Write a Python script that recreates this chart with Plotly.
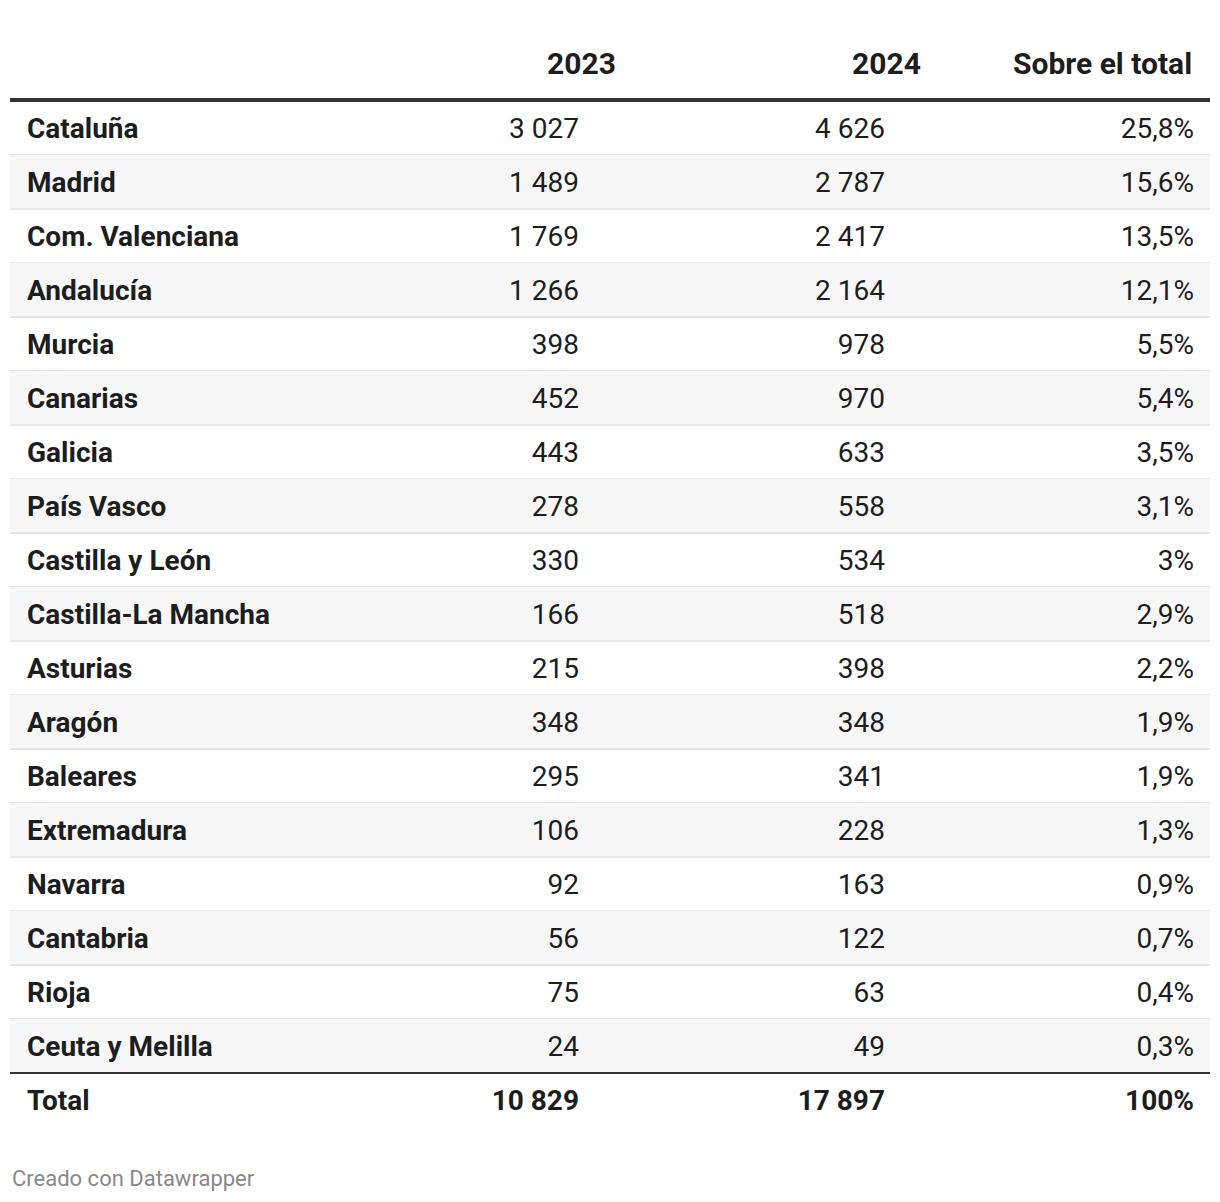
import plotly.graph_objects as go

# === Data ===
regions = ["Cataluña", "Madrid", "Com. Valenciana", "Andalucía", "Murcia", "Canarias",
           "Galicia", "País Vasco", "Castilla y León", "Castilla-La Mancha", "Asturias",
           "Aragón", "Baleares", "Extremadura", "Navarra", "Cantabria", "Rioja",
           "Ceuta y Melilla"]
v2023 = [3027, 1489, 1769, 1266, 398, 452, 443, 278, 330, 166, 215, 348, 295, 106, 92, 56, 75, 24]
v2024 = [4626, 2787, 2417, 2164, 978, 970, 633, 558, 534, 518, 398, 348, 341, 228, 163, 122, 63, 49]
share = [25.8, 15.6, 13.5, 12.1, 5.5, 5.4, 3.5, 3.1, 3.0, 2.9, 2.2, 1.9, 1.9, 1.3, 0.9, 0.7, 0.4, 0.3]
total_label = "Total"
total_2023 = 10829
total_2024 = 17897
total_share = 100.0
headers = ["2023", "2024", "Sobre el total"]

# === Styles ===
W, H = 1220, 1202
OFF = 8  # page body margin; axes are set so that data units == screen pixels
TEXT = "#1d1d1d"
ALT_FILL = "#f7f7f7"
SEP = "#e5e5e5"
DARK = "#333333"
FONT = "Roboto"
ROW0, ROW_H = 128, 54
TEXT_DY = 3  # text baseline nudge inside a row
X_LEFT, X_RIGHT = 10, 1210
X_LABEL, X_C1, X_C2, X_C3 = 27, 579, 885, 1194


def fmt_int(v):
    return f"{v:,}".replace(",", " ")


def fmt_pct(v):
    s = f"{v:.1f}".rstrip("0").rstrip(".")
    return s.replace(".", ",") + "%"


def row_y(i):
    return ROW0 + ROW_H * i


n = len(regions)
ys = [row_y(i) for i in range(n)]
ty = [y + TEXT_DY for y in ys]
y_total = row_y(n) + TEXT_DY

fig = go.Figure()

# alternating row backgrounds and light separators
for i in range(n):
    if i % 2 == 1:
        fig.add_shape(type="rect", x0=X_LEFT, x1=X_RIGHT, y0=ys[i] - ROW_H / 2, y1=ys[i] + ROW_H / 2,
                      fillcolor=ALT_FILL, line=dict(width=0), layer="below")
    if i < n - 1:
        fig.add_shape(type="line", x0=X_LEFT, x1=X_RIGHT, y0=ys[i] + ROW_H / 2, y1=ys[i] + ROW_H / 2,
                      line=dict(color=SEP, width=2), layer="below")

# header rule and total rule
fig.add_shape(type="line", x0=X_LEFT, x1=X_RIGHT, y0=100, y1=100, line=dict(color=DARK, width=4))
fig.add_shape(type="line", x0=X_LEFT, x1=X_RIGHT, y0=ys[-1] + ROW_H / 2, y1=ys[-1] + ROW_H / 2,
              line=dict(color=DARK, width=2))

body = dict(family=FONT, size=28, color=TEXT)
bold = dict(family=FONT, size=28, color=TEXT, weight="bold")

# body columns
fig.add_trace(go.Scatter(x=[X_LABEL] * n, y=ty, text=regions, mode="text",
                         textposition="middle right", textfont=bold))
fig.add_trace(go.Scatter(x=[X_C1] * n, y=ty, text=[fmt_int(v) for v in v2023], mode="text",
                         textposition="middle left", textfont=body))
fig.add_trace(go.Scatter(x=[X_C2] * n, y=ty, text=[fmt_int(v) for v in v2024], mode="text",
                         textposition="middle left", textfont=body))
fig.add_trace(go.Scatter(x=[X_C3] * n, y=ty, text=[fmt_pct(v) for v in share], mode="text",
                         textposition="middle left", textfont=body))

# total row
fig.add_trace(go.Scatter(x=[X_LABEL], y=[y_total], text=[total_label], mode="text",
                         textposition="middle right", textfont=bold))
fig.add_trace(go.Scatter(x=[X_C1, X_C2, X_C3], y=[y_total] * 3,
                         text=[fmt_int(total_2023), fmt_int(total_2024), fmt_pct(total_share)],
                         mode="text", textposition="middle left", textfont=bold))

# headers
hdr = dict(family=FONT, size=30, color=TEXT, weight="bold")
fig.add_annotation(x=X_C1 + 2, y=63, text=headers[0], showarrow=False, xanchor="center",
                   yanchor="middle", font=hdr)
fig.add_annotation(x=X_C2 + 1, y=63, text=headers[1], showarrow=False, xanchor="center",
                   yanchor="middle", font=hdr)
fig.add_annotation(x=X_C3, y=63, text=headers[2], showarrow=False, xanchor="right",
                   yanchor="middle", font=hdr)

# footer
fig.add_annotation(x=X_LEFT, y=1178, text="Creado con Datawrapper", showarrow=False,
                   xanchor="left", yanchor="middle", font=dict(family=FONT, size=22, color="#888888"))

fig.update_layout(
    width=W, height=H,
    margin=dict(l=0, r=0, t=0, b=0),
    xaxis=dict(range=[OFF, W + OFF], visible=False, fixedrange=True),
    yaxis=dict(range=[H + OFF, OFF], visible=False, fixedrange=True),
    plot_bgcolor="white", paper_bgcolor="white",
    showlegend=False,
)

fig.write_html("out.html")
